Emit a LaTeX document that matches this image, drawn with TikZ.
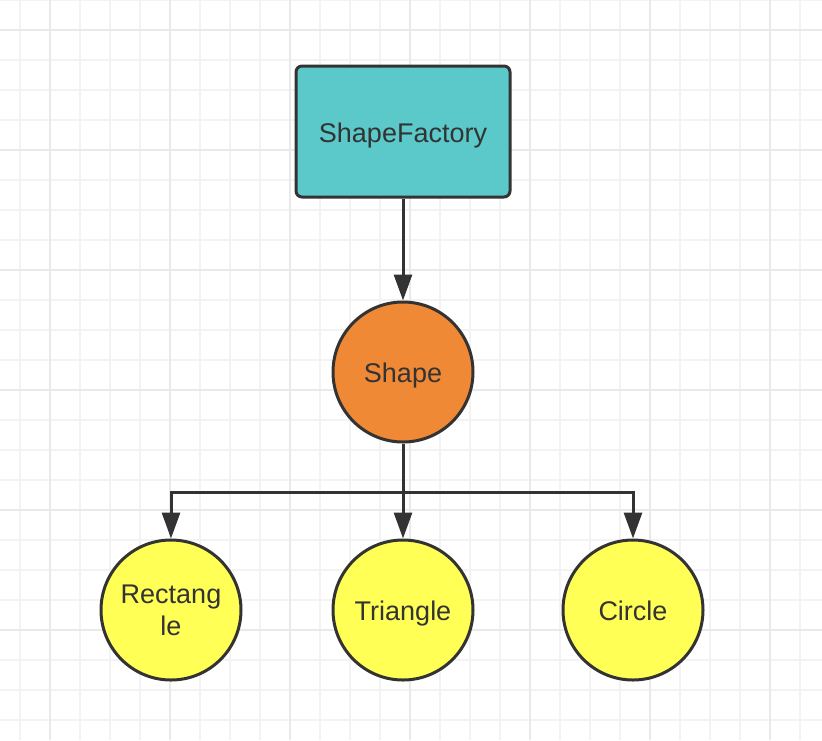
\documentclass[tikz,border=0pt]{standalone}
\usepackage{fontspec}
\setmainfont{Liberation Sans}
\usetikzlibrary{arrows.meta}
\definecolor{ink}{HTML}{333333}
\definecolor{teal}{HTML}{5BC9CA}
\definecolor{orangefill}{HTML}{F08935}
\definecolor{yellowfill}{HTML}{FFFF55}
\definecolor{gridminor}{HTML}{F3F3F3}
\definecolor{gridmajor}{HTML}{E9E9E9}
\tikzset{
  label font/.style={text=ink, font=\fontsize{27}{32}\selectfont},
  one line/.style={text height=27pt, text depth=5.5pt},
  box/.style={draw=ink, line width=3pt, rounded corners=6pt, fill=teal,
    minimum width=214pt, minimum height=131pt, inner sep=0pt,
    label font, one line},
  ball/.style={draw=ink, line width=3pt, circle, minimum size=140pt,
    inner sep=0pt, align=center, label font},
  link/.style={draw=ink, line width=3pt,
    -{Triangle[length=26pt,width=18pt]}},
}
\begin{document}
\begin{tikzpicture}[x=1pt,y=-1pt]
  \useasboundingbox (0,0) rectangle (822,740);
  \fill[white] (0,0) rectangle (822,740);
  % background grid
  \foreach \gx in {20,50,...,800} {
    \draw[gridminor, line width=2pt] (\gx,0) -- (\gx,740);
  }
  \foreach \gy in {0,30,...,730} {
    \draw[gridminor, line width=2pt] (0,\gy) -- (822,\gy);
  }
  \foreach \gx in {50,170,...,770} {
    \draw[gridmajor, line width=2pt] (\gx,0) -- (\gx,740);
  }
  \foreach \gy in {30,150,...,630} {
    \draw[gridmajor, line width=2pt] (0,\gy) -- (822,\gy);
  }

  % nodes
  \node[box] (sf) at (403,131.5) {ShapeFactory};
  \node[ball, one line, fill=orangefill] (shape) at (403,372) {Shape};
  \node[ball, fill=yellowfill] (rect) at (171,610) {Rectang\\le};
  \node[ball, one line, fill=yellowfill] (tri) at (403,610) {Triangle};
  \node[ball, one line, fill=yellowfill] (circ) at (633,610) {Circle};

  % connectors
  \draw[link] (sf) -- (shape);
  \draw[link] (shape) -- (tri);
  \draw[link] (shape.south) -- ++(0,49) -| (rect.north);
  \draw[link] (shape.south) -- ++(0,49) -| (circ.north);
\end{tikzpicture}
\end{document}
